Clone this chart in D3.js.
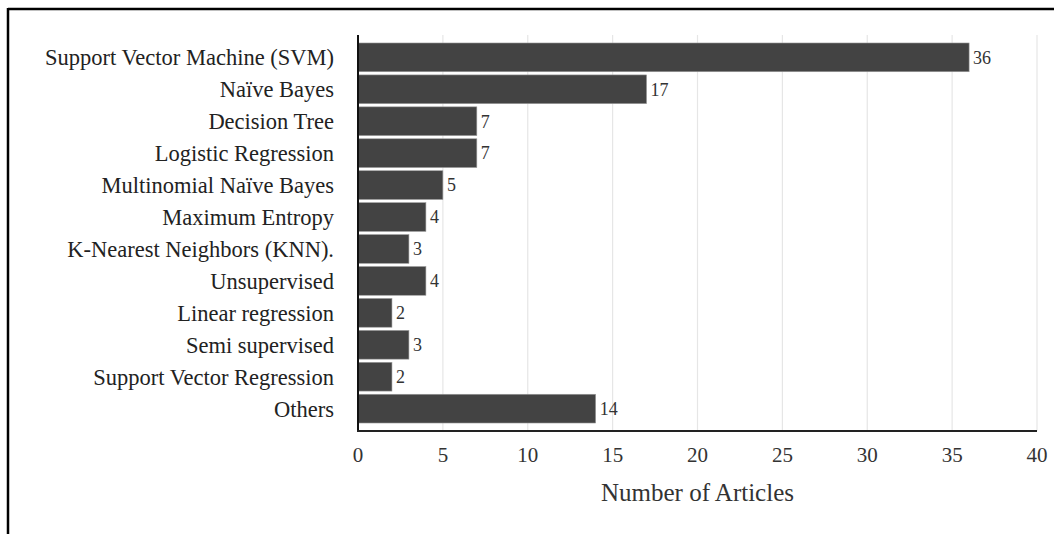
<!DOCTYPE html>
<html>
<head>
<meta charset="utf-8">
<script src="https://cdn.jsdelivr.net/npm/d3@7"></script>
<style>
  html, body { margin: 0; padding: 0; background: #fff; }
  text { font-family: "Liberation Serif", "Times New Roman", serif; }
</style>
</head>
<body>
<svg id="svg" width="1054" height="534"></svg>
<script>
// chart data
var methods = [
	"Support Vector Machine (SVM)",
	"Naïve Bayes",
	"Decision Tree",
	"Logistic Regression",
	"Multinomial Naïve Bayes",
	"Maximum Entropy",
	"K-Nearest Neighbors (KNN).",
	"Unsupervised",
	"Linear regression",
	"Semi supervised",
	"Support Vector Regression",
	"Others"
];
var articleCounts = [36, 17, 7, 7, 5, 4, 3, 4, 2, 3, 2, 14];
var xTicks = [0, 5, 10, 15, 20, 25, 30, 35, 40];
var xTitle = "Number of Articles";

var svg = d3.select('#svg');

// frame lines (top and left only)
svg.append('line')
	.attr('x1', 8).attr('y1', 9).attr('x2', 1054).attr('y2', 9)
	.style('stroke', '#000').style('stroke-width', 2.5);
svg.append('line')
	.attr('x1', 8).attr('y1', 8).attr('x2', 8).attr('y2', 534)
	.style('stroke', '#000').style('stroke-width', 2.5);

// plot box (don't call it "top", window.top is read-only)
var plotLeft = 358, plotRight = 1037, plotTop = 35, plotBottom = 431;

var x = d3.scaleLinear().domain([0, 40]).range([plotLeft, plotRight]);
var y = d3.scaleBand().domain(methods).range([plotTop, plotBottom])
	.paddingInner(0.1).paddingOuter(0.25);

// grid
svg.append('g')
	.selectAll('line')
	.data(xTicks.slice(1))
	.enter()
	.append('line')
	.attr('x1', function(d){ return x(d); })
	.attr('x2', function(d){ return x(d); })
	.attr('y1', plotTop)
	.attr('y2', plotBottom)
	.style('stroke', '#e6e6e6')
	.style('stroke-width', 1.2);

// bars
svg.append('g')
	.selectAll('rect')
	.data(articleCounts)
	.enter()
	.append('rect')
	.attr('x', x(0))
	.attr('y', function(d, i){ return y(methods[i]); })
	.attr('width', function(d){ return x(d) - x(0); })
	.attr('height', y.bandwidth())
	.style('fill', '#434343')
	.style('stroke', '#9a9a9a')
	.style('stroke-width', 0.6);

// value labels
svg.append('g')
	.selectAll('text')
	.data(articleCounts)
	.enter()
	.append('text')
	.attr('x', function(d){ return x(d) + 4; })
	.attr('y', function(d, i){ return y(methods[i]) + y.bandwidth() / 2; })
	.attr('dy', '0.35em')
	.style('font-size', '18px')
	.style('fill', '#333')
	.text(function(d){ return d; });

// category labels
svg.append('g')
	.selectAll('text')
	.data(methods)
	.enter()
	.append('text')
	.attr('x', 334)
	.attr('y', function(d){ return y(d) + y.bandwidth() / 2; })
	.attr('dy', '0.35em')
	.attr('text-anchor', 'end')
	.style('font-size', '22.5px')
	.style('fill', '#222')
	.text(function(d){ return d; });

// axis lines
svg.append('line')
	.attr('x1', plotLeft).attr('y1', plotTop).attr('x2', plotLeft).attr('y2', plotBottom + 1)
	.style('stroke', '#111').style('stroke-width', 2);
svg.append('line')
	.attr('x1', plotLeft - 1).attr('y1', plotBottom).attr('x2', plotRight).attr('y2', plotBottom)
	.style('stroke', '#222').style('stroke-width', 2);

// x tick labels
svg.append('g')
	.selectAll('text')
	.data(xTicks)
	.enter()
	.append('text')
	.attr('x', function(d){ return x(d); })
	.attr('y', 462)
	.attr('text-anchor', 'middle')
	.style('font-size', '21px')
	.style('fill', '#333')
	.text(function(d){ return d; });

svg.append('text')
	.attr('x', (plotLeft + plotRight) / 2)
	.attr('y', 501)
	.attr('text-anchor', 'middle')
	.style('font-size', '25px')
	.style('fill', '#333')
	.text(xTitle);
</script>
</body>
</html>
